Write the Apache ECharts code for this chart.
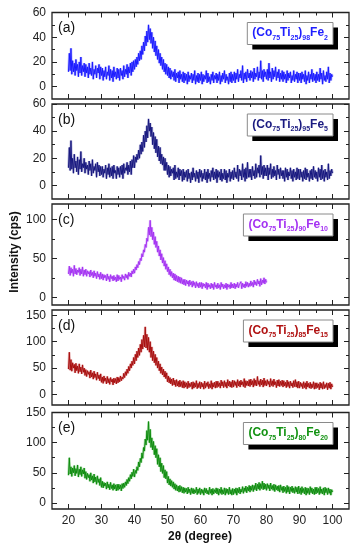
<!DOCTYPE html>
<html>
<head>
<meta charset="utf-8">
<script src="https://cdn.jsdelivr.net/npm/echarts@6/dist/echarts.min.js"></script>
<style>html,body{margin:0;padding:0;background:#fff}#c{width:362px;height:550px}</style>
</head>
<body>
<div id="c"></div>
<script>
// 2θ sampling grid (degrees)
const thetaStart = 20, thetaStep = 0.25;
const xTickMajor = [20, 30, 40, 50, 60, 70, 80, 90, 100];
const xTickMinor = [25, 35, 45, 55, 65, 75, 85, 95];

const panelTags = ['(a)', '(b)', '(c)', '(d)', '(e)'];
const sampleSubs = [['75','25','98','2'], ['75','25','95','5'], ['75','25','90','10'], ['75','25','85','15'], ['75','25','80','20']];

const yTicksMajor = [[0,20,40,60],[0,20,40,60],[0,50,100],[0,50,100,150],[0,50,100,150]];
const yTicksMinor = [[10,30,50],[10,30,50],[25,75],[25,75,125],[25,75,125]];
const yRange = [[-10,60],[-10,60],[-10,120],[-20,160],[-10,150]];

const seriesA = [
12,27,13,31,10,21,12,19,9,22,13,18,8,20,11,24,9,17,12,19,
8,18,11,16,7,19,10,15,9,20,6,14,10,17,7,15,11,18,6,16,
9,15,5,13,8,16,6,12,9,17,5,14,7,13,4,16,8,12,6,15,
7,14,5,15,9,13,6,17,8,14,10,18,7,16,11,19,9,20,12,21,
14,22,16,24,18,27,21,29,22,33,26,36,29,41,33,45,36,50,38,47,
35,44,31,40,28,37,25,33,22,30,19,27,17,24,14,22,12,19,10,18,
9,16,7,15,6,13,8,12,5,14,4,11,7,12,3,13,6,10,4,12,
3,11,5,10,2,12,4,9,6,11,3,10,5,13,2,9,4,11,3,10,
5,12,2,10,4,9,6,13,3,11,4,8,2,10,5,12,3,9,6,11,
3,10,5,12,2,9,4,11,6,13,3,10,5,8,2,11,4,12,3,10,
5,12,3,11,6,14,4,10,7,13,5,17,3,11,6,12,4,14,7,11,
5,13,7,12,4,15,6,11,8,16,5,12,7,21,6,13,4,14,8,12,
6,14,5,19,7,12,4,15,6,13,8,16,5,12,7,14,4,11,6,13,
4,12,6,10,3,13,5,11,7,12,3,9,5,13,4,10,6,12,3,11,
5,11,3,12,6,10,4,13,2,9,5,12,3,10,6,14,4,11,5,10,
3,12,5,10,4,15,6,11,2,13,5,9,4,12,6,16,3,11,5,10,
8];
const seriesB = [
13,28,11,33,12,20,9,23,13,18,10,21,8,19,12,25,10,16,13,20,
9,17,12,15,8,18,11,16,7,19,9,14,11,16,6,17,10,15,7,14,
8,14,6,12,9,15,5,13,8,16,6,13,7,14,5,15,9,11,5,14,
8,13,6,14,8,15,5,16,9,13,11,17,8,15,10,18,8,19,13,22,
13,21,17,23,19,26,20,30,23,32,25,37,28,40,32,44,35,49,40,46,
36,43,30,39,27,36,24,34,21,29,18,28,16,23,15,21,11,20,11,17,
8,15,6,14,7,12,9,13,4,15,5,10,6,13,4,12,7,11,3,12,
4,10,6,11,3,12,5,9,2,10,4,13,6,9,3,11,5,10,2,12,
6,11,3,9,5,12,4,10,2,12,5,9,3,11,6,13,4,10,5,12,
2,11,6,10,4,12,3,9,5,12,4,11,2,9,6,12,3,10,5,11,
4,13,6,10,5,15,3,12,7,11,4,16,6,12,3,13,5,17,6,12,
6,12,4,14,7,11,5,16,6,13,9,15,6,22,8,14,5,15,7,13,
7,15,4,13,8,16,5,12,6,14,7,11,4,15,8,12,5,13,7,11,
5,11,3,13,6,12,4,10,7,13,5,11,3,12,6,10,4,13,5,12,
4,12,6,10,3,11,5,13,4,12,6,9,3,11,5,12,4,14,6,11,
5,10,3,13,6,12,4,15,5,11,3,12,6,10,4,16,5,11,7,12,
9];
const seriesC = [
30,40,28,38,31,36,27,41,30,37,29,35,32,38,28,36,30,39,27,35,
29,36,27,34,30,33,26,35,28,32,25,34,27,31,24,33,26,30,23,32,
24,30,22,29,25,28,21,30,23,27,20,29,24,27,21,28,22,26,20,29,
21,28,23,26,20,29,24,27,22,30,25,29,23,32,27,31,26,34,30,36,
31,39,35,42,38,46,42,50,47,56,52,61,58,68,64,76,72,90,80,99,
78,90,74,84,68,78,64,72,58,66,53,61,48,56,44,51,40,47,36,43,
33,39,29,36,27,33,25,31,22,30,21,28,20,27,19,26,18,25,17,23,
16,23,15,22,17,21,14,22,16,20,13,21,15,19,12,20,14,18,12,19,
13,19,11,18,14,17,12,19,10,18,13,16,11,18,12,17,10,19,13,16,
11,18,12,16,10,19,13,17,11,16,12,18,10,17,13,16,11,19,12,17,
12,18,11,17,13,19,12,16,14,20,11,18,13,17,12,20,14,19,13,18,
14,21,15,19,13,22,16,20,15,23,17,21,14,24,16,22,18,25,17,23,
19];
const seriesD = [
48,80,46,66,44,60,50,57,41,59,45,54,40,58,43,52,39,56,42,50,
36,47,34,45,38,43,31,46,33,41,29,44,32,39,27,42,30,37,26,39,
23,33,21,35,25,31,20,34,22,30,19,32,24,29,18,31,22,30,20,33,
22,32,24,35,26,33,29,40,32,43,36,48,40,53,45,58,50,63,55,70,
58,76,64,82,70,88,74,95,80,104,86,112,90,128,88,114,84,108,80,100,
70,90,64,82,60,76,55,70,50,63,45,58,40,52,37,48,33,44,30,41,
24,35,22,32,20,29,17,31,18,27,15,28,16,25,14,27,15,24,13,26,
12,24,14,22,11,25,13,21,15,23,10,24,12,22,14,26,11,21,13,24,
11,23,14,21,10,25,12,22,15,24,11,20,13,26,10,22,14,23,12,25,
13,25,15,22,12,27,16,24,13,26,15,23,12,28,16,25,14,24,13,27,
14,26,17,24,13,28,16,25,14,27,18,24,15,30,13,26,17,25,16,28,
15,29,18,26,14,30,17,27,16,34,19,26,15,29,18,27,14,31,17,26,
16,28,19,25,14,30,17,26,15,29,18,24,13,27,16,28,15,25,17,27,
14,26,16,23,13,27,15,24,12,25,16,22,13,26,15,28,14,24,12,25,
12,23,15,21,11,24,13,22,10,25,14,21,12,23,11,20,13,24,10,22,
11,22,13,20,9,23,12,21,10,24,11,19,13,22,9,21,12,23,10,20,
14];
const seriesE = [
46,75,48,60,44,58,50,62,45,57,49,63,43,56,47,60,44,55,48,58,
41,52,39,49,42,47,36,50,38,45,33,48,35,43,31,45,34,40,29,42,
26,36,25,34,28,33,23,35,25,31,22,34,24,30,21,32,23,30,20,31,
21,31,23,30,20,32,24,33,26,35,29,39,32,42,36,47,40,51,44,56,
43,54,49,60,54,68,60,74,67,83,74,92,86,106,96,120,104,135,100,122,
92,108,88,102,80,95,75,90,64,80,60,75,52,66,49,62,42,55,40,52,
33,44,30,40,28,37,26,35,23,32,21,30,20,28,18,29,19,27,17,26,
16,25,18,24,15,26,17,23,14,25,16,24,15,22,17,26,14,23,16,25,
14,23,16,22,13,25,17,24,15,21,14,26,16,23,13,24,15,22,17,25,
15,24,13,23,16,26,14,22,15,25,13,24,16,23,14,26,15,22,13,24,
14,23,16,25,13,24,17,26,15,23,18,27,16,25,19,28,17,26,20,29,
18,28,21,30,19,29,22,33,20,31,23,34,21,32,24,36,22,33,23,31,
21,32,24,30,20,33,23,29,21,31,19,30,22,28,20,29,18,30,21,27,
17,28,19,26,16,29,18,27,15,26,19,28,17,25,16,27,18,26,15,28,
16,25,14,27,17,24,15,26,13,25,16,24,14,27,17,25,15,23,14,26,
15,26,17,24,14,27,16,23,15,25,13,26,17,24,14,25,16,23,13,22,
18];

const allSeries = [seriesA, seriesB, seriesC, seriesD, seriesE];
const lineColors = ['#1a1aff', '#16167e', '#a432f2', '#a80e0e', '#0e8c0e'];
const haloColors = ['rgba(80,80,255,0.35)', 'rgba(60,60,160,0.35)', 'rgba(190,110,250,0.4)', 'rgba(200,60,60,0.35)', 'rgba(40,170,40,0.35)'];
const textColors = ['#1e1eff', '#1a1a80', '#a432f2', '#b01212', '#129212'];

// layout (pixels)
const gridTops = [12.5, 104, 204, 310, 412.5];
const gridHeights = [86.5, 95, 101, 95, 96.5];
const gridLeft = 52, gridRight = 13;
const W = 362;

const FONT = '"Liberation Sans", Arial, sans-serif';
const MAIN_PX = 12, SUB_PX = 7;
const grids = [], xAxes = [], yAxes = [], series = [], graphics = [];

function tickAxis(base, ticks, len, extra) {
  return Object.assign({
    axisLine: { show: false, onZero: false },
    splitLine: { show: false },
    axisTick: { show: true, inside: true, length: len, customValues: ticks, lineStyle: { color: '#222', width: 1 } },
    axisLabel: { show: false }
  }, base, extra || {});
}

const mctx = document.createElement('canvas').getContext('2d');
function textW(t, px) { mctx.font = 'bold ' + px + 'px ' + FONT; return mctx.measureText(t).width; }

for (let i = 0; i < 5; i++) {
  grids.push({ left: gridLeft, right: gridRight, top: gridTops[i], height: gridHeights[i],
    show: true, borderColor: '#222', borderWidth: 1.3, backgroundColor: 'transparent', z: 3 });
  const xb = { type: 'value', gridIndex: i, min: 15, max: 105 };
  xAxes.push(tickAxis(Object.assign({ position: 'bottom' }, xb), xTickMajor, 5,
    { axisLabel: { show: i === 4, customValues: xTickMajor, margin: 6, fontSize: 12, color: '#222', fontFamily: FONT } }));
  xAxes.push(tickAxis(Object.assign({ position: 'bottom' }, xb), xTickMinor, 3));
  xAxes.push(tickAxis(Object.assign({ position: 'top' }, xb), xTickMajor, 5));
  xAxes.push(tickAxis(Object.assign({ position: 'top' }, xb), xTickMinor, 3));
  const yb = { type: 'value', gridIndex: i, min: yRange[i][0], max: yRange[i][1] };
  yAxes.push(tickAxis(Object.assign({ position: 'left' }, yb), yTicksMajor[i], 5,
    { axisLabel: { show: true, customValues: yTicksMajor[i], margin: 6, fontSize: 12, color: '#222', fontFamily: FONT } }));
  yAxes.push(tickAxis(Object.assign({ position: 'left' }, yb), yTicksMinor[i], 3));
  yAxes.push(tickAxis(Object.assign({ position: 'right' }, yb), yTicksMajor[i], 5));
  yAxes.push(tickAxis(Object.assign({ position: 'right' }, yb), yTicksMinor[i], 3));

  const pts = allSeries[i].map((v, k) => [thetaStart + k * thetaStep, v]);
  series.push({ type: 'line', xAxisIndex: i * 4, yAxisIndex: i * 4, data: pts, showSymbol: false,
    lineStyle: { color: haloColors[i], width: 2.6 }, animation: false, silent: true, z: 1 });
  series.push({ type: 'line', xAxisIndex: i * 4, yAxisIndex: i * 4, data: pts, showSymbol: false,
    lineStyle: { color: lineColors[i], width: 1 }, animation: false, silent: true, z: 2 });

  // sample label box with subscripts
  const s = sampleSubs[i];
  const pieces = [['(Co', 0], [s[0], 1], ['Ti', 0], [s[1], 1], [')', 0], [s[2], 1], ['Fe', 0], [s[3], 1]];
  let tw = 0;
  pieces.forEach(p => { tw += textW(p[0], p[1] ? SUB_PX : MAIN_PX); });
  const padX = 5, boxH = 22;
  const boxW = tw + 2 * padX;
  const boxRight = W - 29;
  const bx = boxRight - boxW, by = gridTops[i] + 10;
  graphics.push({ type: 'rect', shape: { x: bx + 5, y: by + 5, width: boxW, height: boxH }, style: { fill: '#000' }, z: 100 });
  graphics.push({ type: 'rect', shape: { x: bx, y: by, width: boxW, height: boxH }, style: { fill: '#fff', stroke: '#8a8a8a', lineWidth: 1 }, z: 101 });
  let cx = bx + padX;
  pieces.forEach(p => {
    const px = p[1] ? SUB_PX : MAIN_PX;
    graphics.push({ type: 'text', x: cx, y: by + (p[1] ? 15.5 : 10.5), z: 102,
      style: { text: p[0], fontSize: px, fontWeight: 'bold', fontFamily: FONT, fill: textColors[i], align: 'left', verticalAlign: 'middle' } });
    cx += textW(p[0], px);
  });

  graphics.push({ type: 'text', x: 58, y: gridTops[i] + 16, z: 102,
    style: { text: panelTags[i], fontSize: 14, fontFamily: FONT, fill: '#111', align: 'left', verticalAlign: 'middle' } });
}

graphics.push({ type: 'text', x: 15, y: 252, rotation: Math.PI / 2,
  style: { text: 'Intensity (cps)', fontSize: 12, fontWeight: 'bold', fontFamily: FONT, fill: '#111', align: 'center', verticalAlign: 'middle' } });
graphics.push({ type: 'text', x: 200, y: 537,
  style: { text: '2θ (degree)', fontSize: 12, fontWeight: 'bold', fontFamily: FONT, fill: '#111', align: 'center', verticalAlign: 'middle' } });

const chart = echarts.init(document.getElementById('c'), null, { renderer: 'canvas' });
chart.setOption({
  animation: false,
  backgroundColor: '#fff',
  grid: grids,
  xAxis: xAxes,
  yAxis: yAxes,
  series: series,
  graphic: graphics
});
</script>
</body>
</html>
